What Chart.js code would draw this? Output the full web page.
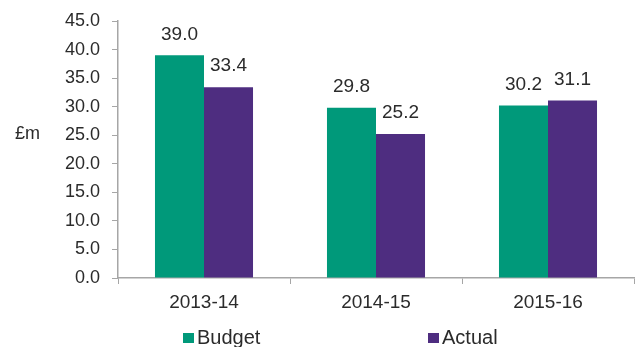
<!DOCTYPE html>
<html>
<head>
<meta charset="utf-8">
<script src="https://cdn.jsdelivr.net/npm/chart.js@4/dist/chart.umd.min.js"></script>
<style>
  html, body { margin: 0; padding: 0; background: #ffffff; }
  #wrap { width: 641px; height: 347px; position: relative; }
</style>
</head>
<body>
<div id="wrap"><canvas id="c" width="641" height="347"></canvas></div>
<script>
// Budget vs actual spend by year (£m)
const years = ['2013-14', '2014-15', '2015-16'];
const budget = [39.0, 29.8, 30.2];
const actual = [33.4, 25.2, 31.1];
const seriesNames = ['Budget', 'Actual'];
const seriesColors = ['#00997A', '#4E2D80'];
const yMin = 0, yMax = 45, yStep = 5;
const unitLabel = '£m';

const FONT = '"Liberation Sans", Arial, sans-serif';
const TEXT = '#2b2b2b';
const AXIS = '#a6a6a6';

// Value labels above each bar, the unit label, and the legend under the axis
const annotate = {
  id: 'annotate',
  afterDatasetsDraw(chart) {
    const ctx = chart.ctx;
    ctx.save();
    ctx.fillStyle = TEXT;
    ctx.font = '19px ' + FONT;
    ctx.textAlign = 'center';
    ctx.textBaseline = 'middle';
    chart.data.datasets.forEach((ds, i) => {
      const meta = chart.getDatasetMeta(i);
      meta.data.forEach((bar, j) => {
        ctx.fillText(ds.data[j].toFixed(1), bar.x, bar.y - 21);
      });
    });

    // unit label beside the value axis
    ctx.textAlign = 'left';
    ctx.font = '18px ' + FONT;
    ctx.fillText(unitLabel, 15, 134);

    // legend
    const items = [{ x: 183 }, { x: 428 }];
    chart.data.datasets.forEach((ds, i) => {
      const x0 = items[i].x;
      ctx.fillStyle = ds.backgroundColor;
      ctx.fillRect(x0, 333, 11, 10);
      ctx.fillStyle = TEXT;
      ctx.font = '20px ' + FONT;
      ctx.textAlign = 'left';
      ctx.fillText(ds.label, x0 + 14, 338);
    });
    ctx.restore();
  }
};

new Chart(document.getElementById('c'), {
  type: 'bar',
  data: {
    labels: years,
    datasets: [
      { label: seriesNames[0], data: budget, backgroundColor: seriesColors[0] },
      { label: seriesNames[1], data: actual, backgroundColor: seriesColors[1] }
    ]
  },
  options: {
    responsive: false,
    animation: false,
    devicePixelRatio: 1,
    layout: { padding: { top: 8, right: 7, bottom: 0, left: 0 } },
    datasets: { bar: { categoryPercentage: 0.57, barPercentage: 1.0 } },
    plugins: {
      legend: { display: false },
      tooltip: { enabled: false }
    },
    scales: {
      x: {
        grid: {
          offset: true,
          drawOnChartArea: false,
          drawTicks: true,
          tickLength: 6,
          color: AXIS
        },
        border: { color: AXIS, width: 1.5 },
        ticks: {
          color: TEXT,
          font: { family: FONT, size: 19 },
          padding: 7
        },
        afterFit(scale) { scale.height = 69; }
      },
      y: {
        min: yMin,
        max: yMax,
        grid: {
          drawOnChartArea: false,
          drawTicks: true,
          tickLength: 6,
          color: AXIS
        },
        border: { color: AXIS, width: 1.5 },
        ticks: {
          stepSize: yStep,
          color: TEXT,
          font: { family: FONT, size: 18, lineHeight: 1 },
          padding: 12,
          callback: v => Number(v).toFixed(1)
        },
        afterFit(scale) { scale.width = 118; }
      }
    }
  },
  plugins: [annotate]
});
</script>
</body>
</html>
